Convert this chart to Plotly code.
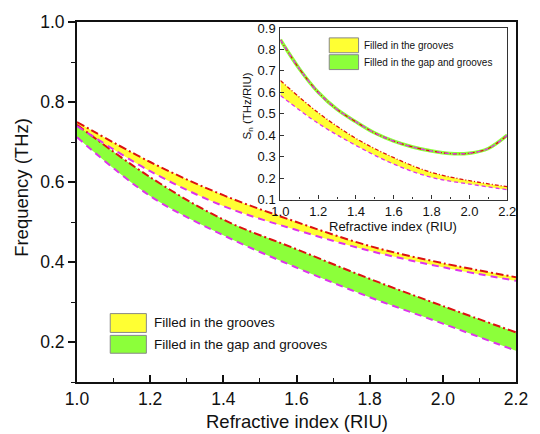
import plotly.graph_objects as go

# ---- main panel: resonance frequency vs refractive index ----
n_main = [1.0, 1.2, 1.4, 1.6, 1.8, 2.0, 2.2]
grooves_upper = [0.750, 0.650, 0.567, 0.500, 0.440, 0.397, 0.362]
grooves_lower = [0.740, 0.627, 0.540, 0.480, 0.428, 0.387, 0.353]
gap_upper = [0.743, 0.612, 0.506, 0.432, 0.358, 0.290, 0.224]
gap_lower = [0.712, 0.565, 0.467, 0.386, 0.312, 0.246, 0.178]

# ---- inset: sensitivity S_n vs refractive index ----
n_inset_gap = [1.0, 1.1, 1.2, 1.3, 1.4, 1.5, 1.6, 1.7, 1.8, 1.9, 2.0, 2.1, 2.2]
sn_gap = [0.845, 0.710, 0.600, 0.520, 0.462, 0.410, 0.372, 0.345, 0.326, 0.314, 0.316, 0.338, 0.400]
n_inset_grooves = [1.0, 1.2, 1.4, 1.6, 1.8, 2.0, 2.2]
sn_grooves_upper = [0.655, 0.505, 0.385, 0.295, 0.226, 0.188, 0.160]
sn_grooves_lower = [0.585, 0.455, 0.352, 0.265, 0.203, 0.172, 0.146]

x_ticks_main = [1.0, 1.2, 1.4, 1.6, 1.8, 2.0, 2.2]
y_ticks_main = [0.2, 0.4, 0.6, 0.8, 1.0]
y_ticks_inset = [0.1, 0.2, 0.3, 0.4, 0.5, 0.6, 0.7, 0.8, 0.9]
legend_labels = ["Filled in the grooves", "Filled in the gap and grooves"]

YELLOW = "#FFFF33"
GREEN = "#8CFF3A"
RED = "#DD1111"
MAGENTA = "#DD33EE"
FONT = "Liberation Sans, Arial, sans-serif"

fig = go.Figure()


def band(x, lo, hi, color, xa, ya):
    fig.add_trace(go.Scatter(x=x, y=lo, mode="lines", line=dict(width=0, shape="spline"),
                             hoverinfo="skip", showlegend=False, xaxis=xa, yaxis=ya))
    fig.add_trace(go.Scatter(x=x, y=hi, mode="lines", fill="tonexty", fillcolor=color,
                             line=dict(width=0, shape="spline"), hoverinfo="skip",
                             showlegend=False, xaxis=xa, yaxis=ya))


def curve(x, y, color, dash, width, xa, ya):
    fig.add_trace(go.Scatter(x=x, y=y, mode="lines",
                             line=dict(color=color, dash=dash, width=width, shape="spline"),
                             showlegend=False, xaxis=xa, yaxis=ya))


# main bands (green first, yellow on top)
band(n_main, gap_lower, gap_upper, GREEN, "x", "y")
band(n_main, grooves_lower, grooves_upper, YELLOW, "x", "y")
curve(n_main, gap_upper, RED, "8px,3px,2px,3px", 2, "x", "y")
curve(n_main, gap_lower, MAGENTA, "7px,5px", 2, "x", "y")
curve(n_main, grooves_upper, RED, "8px,3px,2px,3px", 2, "x", "y")
curve(n_main, grooves_lower, MAGENTA, "7px,5px", 2, "x", "y")

# inset curves
band(n_inset_grooves, sn_grooves_lower, sn_grooves_upper, YELLOW, "x2", "y2")
curve(n_inset_grooves, sn_grooves_upper, RED, "4px,2px,1px,2px", 1.3, "x2", "y2")
curve(n_inset_grooves, sn_grooves_lower, MAGENTA, "4px,3px", 1.3, "x2", "y2")
curve(n_inset_gap, sn_gap, GREEN, "solid", 3.5, "x2", "y2")
curve(n_inset_gap, sn_gap, RED, "4px,2px,1px,2px", 1.3, "x2", "y2")
curve(n_inset_gap, sn_gap, MAGENTA, "4px,4px", 1.3, "x2", "y2")

fig.update_layout(
    width=540, height=434,
    margin=dict(l=77, r=14, t=19, b=52),
    paper_bgcolor="white", plot_bgcolor="white",
    font=dict(family=FONT, color="#111111"),
    showlegend=False,
    xaxis=dict(range=[1.0, 2.2], tickvals=x_ticks_main, ticktext=[f"{v:.1f}" for v in x_ticks_main],
               ticks="inside", ticklen=7, tickwidth=1.5, tickcolor="#111",
               minor=dict(dtick=0.1, tick0=1.0, ticks="inside", ticklen=4, tickwidth=1.2, tickcolor="#111"),
               showline=True, linecolor="#111", linewidth=1.8, mirror=True,
               showgrid=False, zeroline=False, tickfont=dict(size=17.5), domain=[0, 1]),
    yaxis=dict(range=[0.1, 1.0], tickvals=y_ticks_main, ticktext=[f"{v:.1f}" for v in y_ticks_main],
               ticks="outside", ticklen=7, tickwidth=1.5, tickcolor="#111",
               minor=dict(dtick=0.1, tick0=0.1, ticks="outside", ticklen=4, tickwidth=1.2, tickcolor="#111"),
               showline=True, linecolor="#111", linewidth=1.8, mirror=True,
               showgrid=False, zeroline=False, tickfont=dict(size=17.5), domain=[0, 1]),
    xaxis2=dict(range=[1.0, 2.2], tickvals=x_ticks_main, ticktext=[f"{v:.1f}" for v in x_ticks_main],
                ticks="inside", ticklen=4, tickwidth=1, tickcolor="#333",
                minor=dict(dtick=0.1, tick0=1.0, ticks="inside", ticklen=2.5, tickwidth=1, tickcolor="#333"),
                showline=True, linecolor="#333", linewidth=1.2, mirror=True,
                showgrid=False, zeroline=False, tickfont=dict(size=13),
                domain=[0.4633, 0.98], anchor="y2", ticklabelstandoff=0),
    yaxis2=dict(range=[0.1, 0.9], tickvals=y_ticks_inset, ticktext=[f"{v:.1f}" for v in y_ticks_inset],
                ticks="inside", ticklen=4, tickwidth=1, tickcolor="#333",
                showline=True, linecolor="#333", linewidth=1.2, mirror=True,
                showgrid=False, zeroline=False, tickfont=dict(size=13),
                domain=[0.5069, 0.9835], anchor="x2", ticklabelstandoff=1),
)

annotations = [
    dict(text="Refractive index (RIU)", x=0.5, y=-0.110, font=dict(size=18.5)),
    dict(text="Frequency (THz)", x=-0.127, y=0.54, textangle=-90, font=dict(size=18.5)),
    dict(text="Refractive index (RIU)", x=0.719, y=0.4325, font=dict(size=13)),
    dict(text="S<sub>n</sub> (THz/RIU)", x=0.39, y=0.766, textangle=-90, font=dict(size=11.5)),
]

# legend swatches and labels
shapes = []
legend_specs = [
    # (x0, x1, y0, y1, text_x, text_y, size)
    (0.0757, 0.158, 0.1377, 0.190, 0.1715, 0.164, 13.5, YELLOW, legend_labels[0]),
    (0.0757, 0.158, 0.0799, 0.1295, 0.1715, 0.1047, 13.5, GREEN, legend_labels[1]),
    (0.5746, 0.6414, 0.9146, 0.9559, 0.6503, 0.934, 10, YELLOW, legend_labels[0]),
    (0.5746, 0.6414, 0.8678, 0.9091, 0.6503, 0.887, 10, GREEN, legend_labels[1]),
]
for x0, x1, y0, y1, tx, ty, size, color, label in legend_specs:
    shapes.append(dict(type="rect", xref="paper", yref="paper", x0=x0, x1=x1, y0=y0, y1=y1,
                       fillcolor=color, line=dict(color="#888888", width=1)))
    annotations.append(dict(text=label, x=tx, y=ty, xanchor="left", font=dict(size=size)))

for a in annotations:
    a.setdefault("xref", "paper")
    a.setdefault("yref", "paper")
    a.setdefault("showarrow", False)
    a.setdefault("xanchor", "center")
    a.setdefault("yanchor", "middle")

fig.update_layout(annotations=annotations, shapes=shapes)
fig.write_html("out.html")
